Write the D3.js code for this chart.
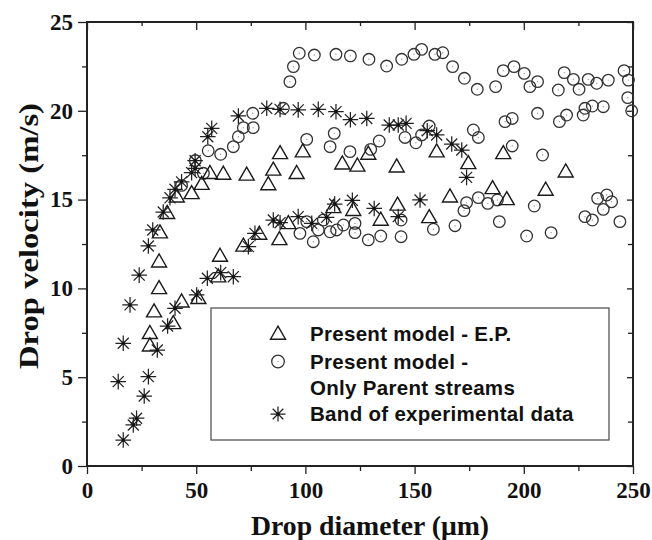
<!DOCTYPE html>
<html>
<head>
<meta charset="utf-8">
<script src="https://cdn.jsdelivr.net/npm/d3@7"></script>
<style>
  body { margin: 0; background: #fff; }
  svg { display: block; }
</style>
</head>
<body>
<svg id="chart" width="652" height="540"></svg>
<script>
// Present model - E.P. (triangles) [diameter um, velocity m/s]
const epPoints = [
  [28.8, 6.77], [28.8, 7.47], [30.7, 8.69], [33.0, 10.0], [33.0, 11.5], [33.4, 13.14],
  [36.7, 14.23], [41.1, 15.16], [47.9, 15.35], [52.5, 15.87], [39.5, 8.03], [43.3, 9.25],
  [51.0, 9.44], [60.1, 10.66], [60.9, 11.82], [71.6, 12.39], [78.9, 13.06], [88.1, 12.76],
  [92.2, 13.66], [56.3, 16.48], [62.4, 16.44], [73.1, 16.39], [83.0, 15.85], [85.3, 16.67],
  [88.4, 17.6], [96.0, 16.48], [98.8, 17.7], [112.8, 14.56], [121.9, 14.4], [116.9, 17.02],
  [123.8, 16.9], [128.8, 17.57], [141.8, 16.85], [160.1, 17.7], [174.6, 17.04], [190.6, 17.6],
  [219.2, 16.57], [134.5, 13.85], [142.2, 14.7], [156.7, 14.0], [166.2, 15.16], [185.7, 15.63],
  [192.2, 15.01], [210.0, 15.54]
];

// Present model - Only Parent streams (circles)
const psPoints = [
  [92.9, 21.64], [94.5, 22.49], [97.2, 23.24], [104.1, 23.14], [114.0, 23.18], [120.6, 23.09],
  [129.1, 22.9], [137.2, 22.52], [144.1, 22.9], [149.7, 23.18], [153.2, 23.46], [159.3, 23.18],
  [162.9, 23.27], [167.4, 22.49], [172.8, 21.83], [178.7, 21.21], [187.1, 21.36], [190.6, 22.26],
  [195.5, 22.49], [200.2, 22.11], [202.8, 21.36], [206.3, 21.64], [215.8, 21.17], [218.5, 22.15],
  [222.7, 21.77], [225.3, 21.21], [229.5, 21.77], [233.4, 21.55], [238.7, 21.73], [245.9, 22.26],
  [247.9, 21.73], [247.6, 20.74], [249.4, 20.0],
  [43.3, 15.8], [49.6, 17.2], [53.3, 16.48], [55.5, 17.75], [61.2, 17.55], [67.0, 17.98],
  [69.3, 18.54], [71.6, 19.05], [76.1, 19.05], [75.9, 19.86], [89.9, 20.14], [100.6, 18.39],
  [111.3, 17.98], [113.2, 18.73], [120.4, 17.7], [129.9, 17.83], [133.8, 18.3], [145.6, 18.5],
  [150.6, 18.2], [153.2, 18.64], [156.7, 19.14], [176.9, 18.92], [179.2, 18.5], [191.4, 19.39],
  [194.7, 19.57], [206.3, 19.86], [216.3, 19.39], [219.6, 19.76], [227.2, 19.76], [228.0, 20.14],
  [231.4, 20.27], [236.4, 20.23], [194.7, 18.02], [208.6, 17.51],
  [97.5, 13.1], [100.6, 13.76], [103.6, 12.63], [105.9, 13.29], [108.2, 13.85], [111.3, 13.19],
  [114.3, 13.29], [117.4, 13.57], [122.7, 13.66], [122.7, 13.14], [128.8, 12.73], [134.5, 12.95],
  [143.8, 12.91], [143.8, 13.85], [158.6, 13.33], [168.5, 13.53], [172.6, 14.38], [173.8, 14.83],
  [179.2, 15.11], [183.5, 14.79], [187.9, 14.98], [188.8, 13.76], [201.3, 12.95], [204.8, 14.64],
  [212.5, 13.14], [228.0, 14.04], [231.4, 13.85], [236.4, 14.45], [233.8, 15.07], [238.0, 15.26],
  [240.2, 14.88], [244.0, 13.76]
];

// Band of experimental data (asterisks)
const expPoints = [
  [14.3, 4.75], [16.6, 1.46], [16.6, 6.91], [19.7, 9.07], [21.2, 2.31], [22.7, 2.69],
  [23.9, 10.75], [26.2, 3.94], [28.1, 5.03], [28.1, 12.39], [30.1, 13.29], [32.2, 6.53],
  [34.9, 14.3], [36.9, 7.88], [38.0, 15.1], [40.3, 8.88], [40.3, 15.58], [43.3, 16.0],
  [47.9, 16.52], [49.5, 16.76], [49.5, 17.19], [55.3, 18.54], [57.1, 19.01], [50.2, 9.63],
  [55.1, 10.57], [61.2, 10.89], [67.0, 10.66], [69.3, 19.71], [73.9, 12.35], [76.9, 13.1],
  [82.3, 20.14], [85.3, 13.85], [88.4, 13.7], [88.4, 20.08], [96.7, 14.04], [96.7, 20.05],
  [102.9, 13.66], [105.9, 20.08], [109.7, 14.0], [113.4, 14.75], [114.0, 19.95], [120.6, 19.5],
  [121.5, 14.96], [128.1, 19.57], [131.5, 14.5], [138.4, 19.2], [142.5, 19.2], [142.5, 14.04],
  [146.1, 19.29], [152.5, 14.98], [155.8, 18.88], [160.1, 18.64], [167.0, 18.13], [171.6, 17.79],
  [173.8, 16.25]
];

const xTicks = [0, 50, 100, 150, 200, 250];
const yTicks = [0, 5, 10, 15, 20, 25];
const legendLabels = [
  'Present model - E.P.',
  'Present model -',
  'Only Parent streams',
  'Band of experimental data'
];

const svg = d3.select('#chart');
const margin = { left: 87, right: 19, top: 22, bottom: 74 };
const width = 652 - margin.left - margin.right;
const height = 540 - margin.top - margin.bottom;

const x = d3.scaleLinear().domain([0, 250]).range([0, width]);
const y = d3.scaleLinear().domain([0, 25]).range([height, 0]);

const g = svg.append('g').attr('transform', `translate(${margin.left},${margin.top})`);

const serif = '"Liberation Serif", "Times New Roman", serif';
const sans = '"Liberation Sans", Arial, sans-serif';
const axisColor = '#222';

// minor ticks every 25 / 2.5
const xMinor = d3.range(25, 250, 50);
const yMinor = d3.range(2.5, 25, 5);

function styleAxis(sel) {
  sel.select('.domain').remove();
  sel.selectAll('line').attr('stroke', axisColor).attr('stroke-width', 1.3);
}

// bottom axis (outward)
g.append('g').attr('transform', `translate(0,${height})`)
  .call(d3.axisBottom(x).tickValues(xTicks).tickSize(8).tickPadding(8))
  .call(styleAxis)
  .selectAll('text')
  .attr('font-family', serif).attr('font-weight', 'bold').attr('font-size', 23).attr('fill', '#111');
g.append('g').attr('transform', `translate(0,${height})`)
  .call(d3.axisBottom(x).tickValues(xMinor).tickSize(5).tickFormat(''))
  .call(styleAxis);

// top axis (inward)
g.append('g').call(d3.axisBottom(x).tickValues(xTicks).tickSize(8).tickFormat('')).call(styleAxis);
g.append('g').call(d3.axisBottom(x).tickValues(xMinor).tickSize(4).tickFormat('')).call(styleAxis);

// left axis (outward)
g.append('g')
  .call(d3.axisLeft(y).tickValues(yTicks).tickSize(9).tickPadding(5))
  .call(styleAxis)
  .selectAll('text')
  .attr('font-family', serif).attr('font-weight', 'bold').attr('font-size', 23).attr('fill', '#111');
g.append('g').call(d3.axisLeft(y).tickValues(yMinor).tickSize(5).tickFormat('')).call(styleAxis);

// right axis (inward)
g.append('g').attr('transform', `translate(${width},0)`)
  .call(d3.axisLeft(y).tickValues(yTicks).tickSize(6).tickFormat('')).call(styleAxis);
g.append('g').attr('transform', `translate(${width},0)`)
  .call(d3.axisLeft(y).tickValues(yMinor).tickSize(5).tickFormat('')).call(styleAxis);

// frame
g.append('rect')
  .attr('x', 0).attr('y', 0).attr('width', width).attr('height', height)
  .attr('fill', 'none').attr('stroke', axisColor).attr('stroke-width', 2);

// marker drawing
function drawTriangle(sel, s) {
  const h = s * 0.87;
  sel.append('path')
    .attr('d', `M0,${-h * 0.6}L${s / 2},${h * 0.4}L${-s / 2},${h * 0.4}Z`)
    .attr('fill', 'none').attr('stroke', '#1a1a1a').attr('stroke-width', 1.4);
}
function drawCircle(sel, r) {
  sel.append('circle').attr('r', r)
    .attr('fill', 'none').attr('stroke', '#333').attr('stroke-width', 1.3);
  sel.append('circle').attr('r', 0.7).attr('fill', '#999');
}
function drawStar(sel, a) {
  const d = a * Math.SQRT1_2;
  sel.append('path')
    .attr('d', `M0,${-a}V${a}M${-a},0H${a}M${-d},${-d}L${d},${d}M${-d},${d}L${d},${-d}`)
    .attr('stroke', '#222').attr('stroke-width', 1.25).attr('fill', 'none');
  sel.append('circle').attr('r', 1.6).attr('fill', '#111');
}

const plot = g.append('g');

plot.append('g').selectAll('g').data(psPoints).enter().append('g')
  .attr('transform', d => `translate(${x(d[0])},${y(d[1])})`)
  .each(function() { drawCircle(d3.select(this), 5.8); });

plot.append('g').selectAll('g').data(epPoints).enter().append('g')
  .attr('transform', d => `translate(${x(d[0])},${y(d[1])})`)
  .each(function() { drawTriangle(d3.select(this), 15); });

plot.append('g').selectAll('g').data(expPoints).enter().append('g')
  .attr('transform', d => `translate(${x(d[0])},${y(d[1])})`)
  .each(function() { drawStar(d3.select(this), 7.8); });

// legend
const legend = svg.append('g');
legend.append('rect')
  .attr('x', 211).attr('y', 308).attr('width', 398).attr('height', 132)
  .attr('fill', '#fff').attr('stroke', '#555').attr('stroke-width', 1.3);

const rowY = [334, 361.5, 388, 414];
legendLabels.forEach((t, i) => {
  legend.append('text')
    .attr('x', 310).attr('y', rowY[i]).attr('dy', '0.35em')
    .attr('font-family', sans).attr('font-weight', 'bold').attr('font-size', 20.5)
    .attr('letter-spacing', 0.3)
    .attr('fill', '#111').text(t);
});
drawTriangle(legend.append('g').attr('transform', `translate(278,${rowY[0]})`), 15);
drawCircle(legend.append('g').attr('transform', `translate(278,${rowY[1]})`), 6.3);
drawStar(legend.append('g').attr('transform', `translate(278,${rowY[3]})`), 7.5);

// axis titles
svg.append('text')
  .attr('x', 370).attr('y', 535)
  .attr('text-anchor', 'middle')
  .attr('font-family', serif).attr('font-weight', 'bold').attr('font-size', 28)
  .attr('textLength', 238).attr('lengthAdjust', 'spacingAndGlyphs')
  .attr('fill', '#111').text('Drop diameter (μm)');

svg.append('text')
  .attr('transform', 'translate(38,236) rotate(-90)')
  .attr('text-anchor', 'middle')
  .attr('font-family', serif).attr('font-weight', 'bold').attr('font-size', 28)
  .attr('textLength', 266).attr('lengthAdjust', 'spacingAndGlyphs')
  .attr('fill', '#111').text('Drop velocity (m/s)');
</script>
</body>
</html>
